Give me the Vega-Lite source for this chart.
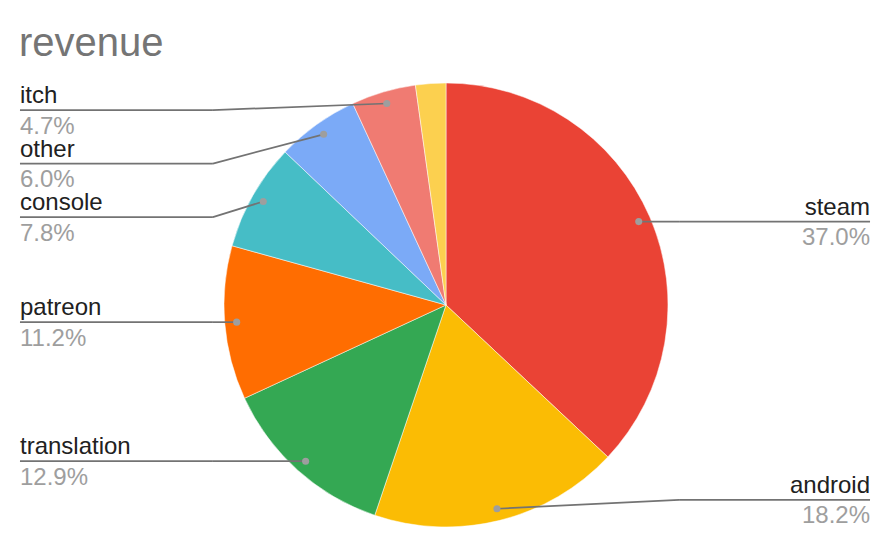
{
  "$schema": "https://vega.github.io/schema/vega-lite/v6.json",
  "width": 892,
  "height": 486,
  "autosize": {"type": "none"},
  "padding": {"top": 62, "left": 0, "right": 3, "bottom": 0},
  "background": "white",
  "config": {"view": {"stroke": null}, "font": "Liberation Sans"},
  "title": {"text": "revenue", "anchor": "start", "frame": "group", "fontSize": 40, "font": "Liberation Sans", "fontWeight": "normal", "color": "#757575", "dx": 19, "offset": -2},
  "data": {"values": [
    {"name": "steam", "share": 37.0},
    {"name": "android", "share": 18.2},
    {"name": "translation", "share": 12.9},
    {"name": "patreon", "share": 11.2},
    {"name": "console", "share": 7.8},
    {"name": "other", "share": 6.0},
    {"name": "itch", "share": 4.7},
    {"name": "misc", "share": 2.2}
  ]},
  "transform": [
    {"window": [{"op": "row_number", "as": "idx"}]},
    {"joinaggregate": [{"op": "sum", "field": "share", "as": "total"}]},
    {"window": [{"op": "sum", "field": "share", "as": "cum"}], "sort": [{"field": "idx"}], "frame": [null, 0]},
    {"calculate": "datum.share / datum.total", "as": "pct"},
    {"calculate": "2 * PI * (datum.cum - datum.share / 2) / datum.total", "as": "mid"},
    {"calculate": "94.6 * sin(datum.mid)", "as": "dotx"},
    {"calculate": "-94.6 * cos(datum.mid)", "as": "doty"},
    {"calculate": "datum.dotx >= 0 ? 'right' : 'left'", "as": "side"},
    {"calculate": "datum.dotx >= 0 ? 105 : -105", "as": "elbowx"},
    {"calculate": "datum.dotx >= 0 ? 191 : -191.9", "as": "endx"},
    {"calculate": "clamp(datum.doty, -87.8, 87.8)", "as": "cy"}
  ],
  "layer": [
    {
      "mark": {"type": "arc", "outerRadius": 222, "stroke": "white", "strokeWidth": 0.5},
      "encoding": {
        "theta": {"field": "share", "type": "quantitative", "stack": true},
        "order": {"field": "idx", "type": "quantitative"},
        "color": {
          "field": "name", "type": "nominal", "legend": null,
          "scale": {
            "domain": ["steam", "android", "translation", "patreon", "console", "other", "itch", "misc"],
            "range": ["#EA4335", "#FBBC04", "#34A853", "#FF6D01", "#46BDC6", "#7BAAF7", "#F07B72", "#FCD04F"]
          }
        }
      }
    },
    {
      "transform": [
        {"filter": "datum.share > 3"},
        {"window": [{"op": "row_number", "as": "k"}], "groupby": ["side"], "sort": [{"field": "cy"}]},
        {"calculate": "datum.cy - 24.1 * datum.k", "as": "t"},
        {"window": [{"op": "max", "field": "t", "as": "tmax"}], "groupby": ["side"], "sort": [{"field": "cy"}], "frame": [null, 0]},
        {"calculate": "datum.tmax + 24.1 * datum.k", "as": "ly"}
      ],
      "layer": [
        {
          "mark": {"type": "rule", "color": "#737373", "strokeWidth": 1.7},
          "encoding": {
            "x": {"field": "dotx", "type": "quantitative", "scale": {"domain": [-200.9, 200.9], "nice": false, "zero": false}, "axis": null},
            "y": {"field": "doty", "type": "quantitative", "scale": {"domain": [-109.46, 109.46], "nice": false, "zero": false, "reverse": true}, "axis": null},
            "x2": {"field": "elbowx"},
            "y2": {"field": "ly"}
          }
        },
        {
          "mark": {"type": "rule", "color": "#737373", "strokeWidth": 1.7},
          "encoding": {
            "x": {"field": "elbowx", "type": "quantitative"},
            "x2": {"field": "endx"},
            "y": {"field": "ly", "type": "quantitative"}
          }
        },
        {
          "mark": {"type": "circle", "size": 50, "color": "#9e9e9e", "opacity": 1},
          "encoding": {
            "x": {"field": "dotx", "type": "quantitative"},
            "y": {"field": "doty", "type": "quantitative"}
          }
        },
        {
          "transform": [{"filter": "datum.side == 'right'"}],
          "mark": {"type": "text", "align": "right", "baseline": "alphabetic", "dy": -7, "fontSize": 24, "font": "Liberation Sans", "color": "#212121"},
          "encoding": {
            "x": {"field": "endx", "type": "quantitative"},
            "y": {"field": "ly", "type": "quantitative"},
            "text": {"field": "name", "type": "nominal"}
          }
        },
        {
          "transform": [{"filter": "datum.side == 'right'"}],
          "mark": {"type": "text", "align": "right", "baseline": "alphabetic", "dy": 23.5, "fontSize": 24, "font": "Liberation Sans", "color": "#9e9e9e"},
          "encoding": {
            "x": {"field": "endx", "type": "quantitative"},
            "y": {"field": "ly", "type": "quantitative"},
            "text": {"field": "pct", "type": "quantitative", "format": ".1%"}
          }
        },
        {
          "transform": [{"filter": "datum.side == 'left'"}],
          "mark": {"type": "text", "align": "left", "baseline": "alphabetic", "dy": -7, "fontSize": 24, "font": "Liberation Sans", "color": "#212121"},
          "encoding": {
            "x": {"field": "endx", "type": "quantitative"},
            "y": {"field": "ly", "type": "quantitative"},
            "text": {"field": "name", "type": "nominal"}
          }
        },
        {
          "transform": [{"filter": "datum.side == 'left'"}],
          "mark": {"type": "text", "align": "left", "baseline": "alphabetic", "dy": 23.5, "fontSize": 24, "font": "Liberation Sans", "color": "#9e9e9e"},
          "encoding": {
            "x": {"field": "endx", "type": "quantitative"},
            "y": {"field": "ly", "type": "quantitative"},
            "text": {"field": "pct", "type": "quantitative", "format": ".1%"}
          }
        }
      ]
    }
  ]
}
